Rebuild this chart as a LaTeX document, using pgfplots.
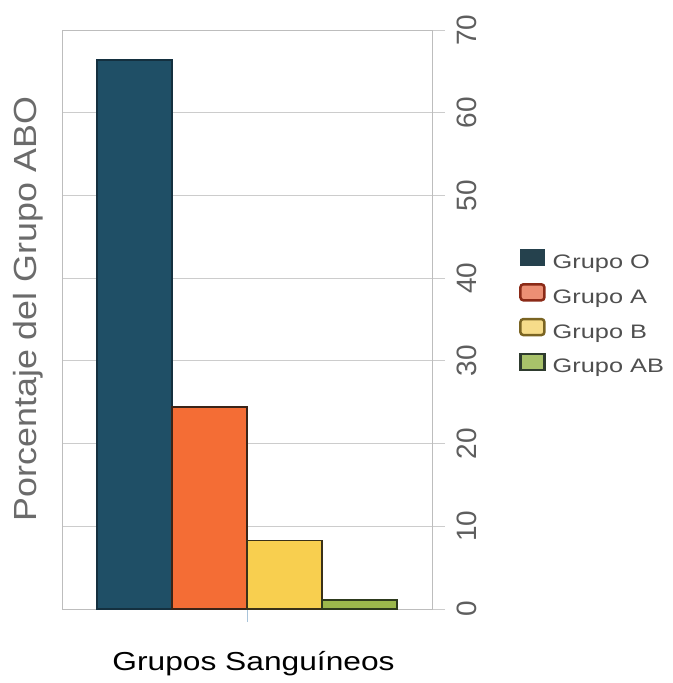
\documentclass[border=0pt]{standalone}
\usepackage{fontspec}
\usepackage{pgfplots}
\pgfplotsset{compat=1.18}
\setmainfont{Liberation Sans}
\newfontfamily\ylabfont[FakeStretch=1.12]{Liberation Sans}
\newfontfamily\xlabfont[FakeStretch=1.22]{Liberation Sans}
\newfontfamily\legfont[FakeStretch=1.3]{Liberation Sans}
\newfontfamily\tickfont{Liberation Sans}

\definecolor{cO}{HTML}{1F4F66}
\definecolor{dO}{HTML}{14303F}
\definecolor{cA}{HTML}{F46D35}
\definecolor{dA}{HTML}{3A2418}
\definecolor{cB}{HTML}{F8CF4F}
\definecolor{dB}{HTML}{3A3118}
\definecolor{cAB}{HTML}{9BB84B}
\definecolor{dAB}{HTML}{2D3A1D}
\definecolor{lO}{HTML}{25414D}
\definecolor{lA}{HTML}{EC8F74}
\definecolor{ldA}{HTML}{8B2A17}
\definecolor{lB}{HTML}{F6DC8A}
\definecolor{ldB}{HTML}{7A6422}
\definecolor{lAB}{HTML}{A8C26A}
\definecolor{ldAB}{HTML}{2E3B2E}
\definecolor{gridgray}{HTML}{CCCCCC}
\definecolor{framegray}{HTML}{BDBDBD}
\definecolor{tickgray}{HTML}{5E5E5E}
\definecolor{labelgray}{HTML}{6B6B6B}
\definecolor{legtext}{HTML}{4F4F4F}
\definecolor{tickblue}{HTML}{A9C4DA}

\begin{document}
\begin{tikzpicture}
\begin{axis}[
  at={(0,0)}, anchor=south west,
  scale only axis, width=370bp, height=579bp,
  xmin=-1, xmax=1, ymin=0, ymax=70,
  ytick={0,10,...,70}, xtick={0}, xticklabels={},
  axis line style={draw=framegray, line width=1bp},
  ymajorgrids, grid style={draw=gridgray, line width=1bp},
  tick align=outside, major tick length=13bp,
  xtick pos=bottom, ytick pos=right, yticklabel pos=right,
  ytick style={draw=gridgray, line width=1bp},
  xtick style={draw=tickblue, line width=1bp},
  /pgf/number format/assume math mode=true,
  yticklabel style={font=\tickfont\fontsize{28bp}{28bp}\selectfont, text=tickgray,
    xshift=22bp, rotate=90, anchor=center},
  every axis y label/.style={at={(rel axis cs:0,0.518)}, xshift=-34bp, rotate=90,
    anchor=center, font=\ylabfont\fontsize{32bp}{32bp}\selectfont, text=labelgray},
  every axis x label/.style={at={(rel axis cs:0.5176,0)}, yshift=-61bp, anchor=base,
    font=\xlabfont\fontsize{26bp}{26bp}\selectfont, text=black},
  ylabel={Porcentaje del Grupo ABO},
  xlabel={Grupos Sanguíneos},
  legend image code/.code={\draw[#1] (0bp,-2bp) rectangle (24bp,14bp);},
  legend style={at={(1.235,0.622)}, anchor=north west, draw=none, fill=none,
    inner sep=0pt, row sep=10.5bp, column sep=7bp,
    font=\legfont\fontsize{19.5bp}{20bp}\selectfont, text=legtext,
    nodes={inner sep=0pt, text height=14bp, text depth=4bp}},
  legend cell align=left,
]
% bars of the four blood groups
\addplot[ybar, bar width=75bp, bar shift=-112.5bp, fill=cO, draw=dO, line width=1.5bp, forget plot]
  coordinates {(0,66.4)};
\addplot[ybar, bar width=75bp, bar shift=-37.5bp, fill=cA, draw=dA, line width=1.5bp, forget plot]
  coordinates {(0,24.4)};
\addplot[ybar, bar width=75bp, bar shift=37.5bp, fill=cB, draw=dB, line width=1.5bp, forget plot]
  coordinates {(0,8.3)};
\addplot[ybar, bar width=75bp, bar shift=112.5bp, fill=cAB, draw=dAB, line width=1.5bp, forget plot]
  coordinates {(0,1.1)};

% legend swatches
\addlegendimage{fill=lO, draw=lO, line width=1bp}
\addlegendentry{Grupo O}
\addlegendimage{fill=lA, draw=ldA, line width=2.5bp, rounded corners=3bp}
\addlegendentry{Grupo A}
\addlegendimage{fill=lB, draw=ldB, line width=2.5bp, rounded corners=3bp}
\addlegendentry{Grupo B}
\addlegendimage{fill=lAB, draw=ldAB, line width=2.5bp}
\addlegendentry{Grupo AB}
\end{axis}
\pgfresetboundingbox
\path (-62bp,-74bp) rectangle (611bp,609bp);
\end{tikzpicture}
\end{document}
